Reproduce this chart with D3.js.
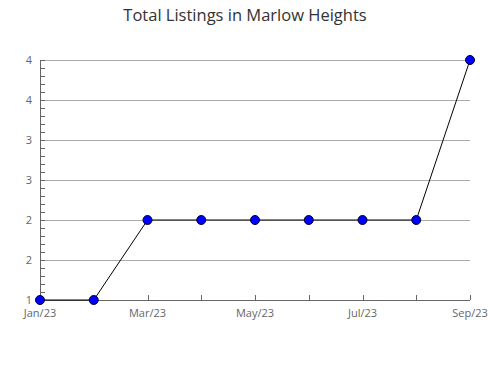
<!DOCTYPE html>
<html><head><meta charset="utf-8">
<script src="https://cdn.jsdelivr.net/npm/d3@7"></script>
<style>body{margin:0;background:#fff}</style>
</head><body>
<svg id="c" width="490" height="380"></svg>
<script>
const months = ["Jan/23","Feb/23","Mar/23","Apr/23","May/23","Jun/23","Jul/23","Aug/23","Sep/23"];
const values = [1,1,2,2,2,2,2,2,4];
const xLabels = ["Jan/23","Mar/23","May/23","Jul/23","Sep/23"];
const yMajor = [1,1.5,2,2.5,3,3.5,4];
const title = "Total Listings in Marlow Heights";

const svg = d3.select("#c");
const font = "'Open Sans', sans-serif";
const x = d3.scalePoint().domain(months).range([40,470]);
const y = d3.scaleLinear().domain([1,4]).range([300,60]);

svg.append("text").attr("x",245).attr("y",21).attr("text-anchor","middle")
  .attr("font-family",font).attr("font-size",16.5).attr("fill","#333").text(title);

// gridlines
svg.append("g").selectAll("line").data(yMajor).join("line")
  .attr("x1",40).attr("x2",470).attr("y1",d=>y(d)).attr("y2",d=>y(d))
  .attr("stroke","#aaa").attr("stroke-width",1).attr("shape-rendering","crispEdges");

// y axis
const yMinor = d3.range(0,31).map(i=>1+i*0.1);
const ya = svg.append("g").attr("transform","translate(40,0)")
  .call(d3.axisRight(y).tickValues(yMinor).tickSize(5).tickFormat(""));
ya.select(".domain").remove();
ya.selectAll("line").attr("stroke","#666").attr("shape-rendering","crispEdges");
svg.append("line").attr("x1",40).attr("x2",40).attr("y1",60).attr("y2",300)
  .attr("stroke","#666").attr("shape-rendering","crispEdges");
svg.append("g").selectAll("text").data(yMajor).join("text")
  .attr("x",32).attr("y",d=>y(d)+4).attr("text-anchor","end")
  .attr("font-family",font).attr("font-size",11).attr("fill","#666")
  .text(d=>d3.format(".0f")(Math.round(d)));

// x axis
const xa = svg.append("g").attr("transform","translate(0,300)")
  .call(d3.axisTop(x).tickSize(5).tickFormat(""));
xa.select(".domain").remove();
xa.selectAll("line").attr("stroke","#666").attr("shape-rendering","crispEdges");
svg.append("line").attr("x1",40).attr("x2",470).attr("y1",300).attr("y2",300)
  .attr("stroke","#666").attr("shape-rendering","crispEdges");
svg.append("g").selectAll("text").data(xLabels).join("text")
  .attr("x",d=>x(d)).attr("y",317).attr("text-anchor","middle")
  .attr("font-family",font).attr("font-size",11).attr("fill","#666").text(d=>d);

// line
const data = months.map((m,i)=>({m,v:values[i]}));
svg.append("path").datum(data)
  .attr("d",d3.line().x(d=>x(d.m)).y(d=>y(d.v)))
  .attr("fill","none").attr("stroke","#000").attr("stroke-width",1);
svg.append("g").selectAll("circle").data(data).join("circle")
  .attr("cx",d=>x(d.m)).attr("cy",d=>y(d.v)).attr("r",4.5)
  .attr("fill","#0000ff").attr("stroke","#000033").attr("stroke-width",1);
</script>
</body></html>
